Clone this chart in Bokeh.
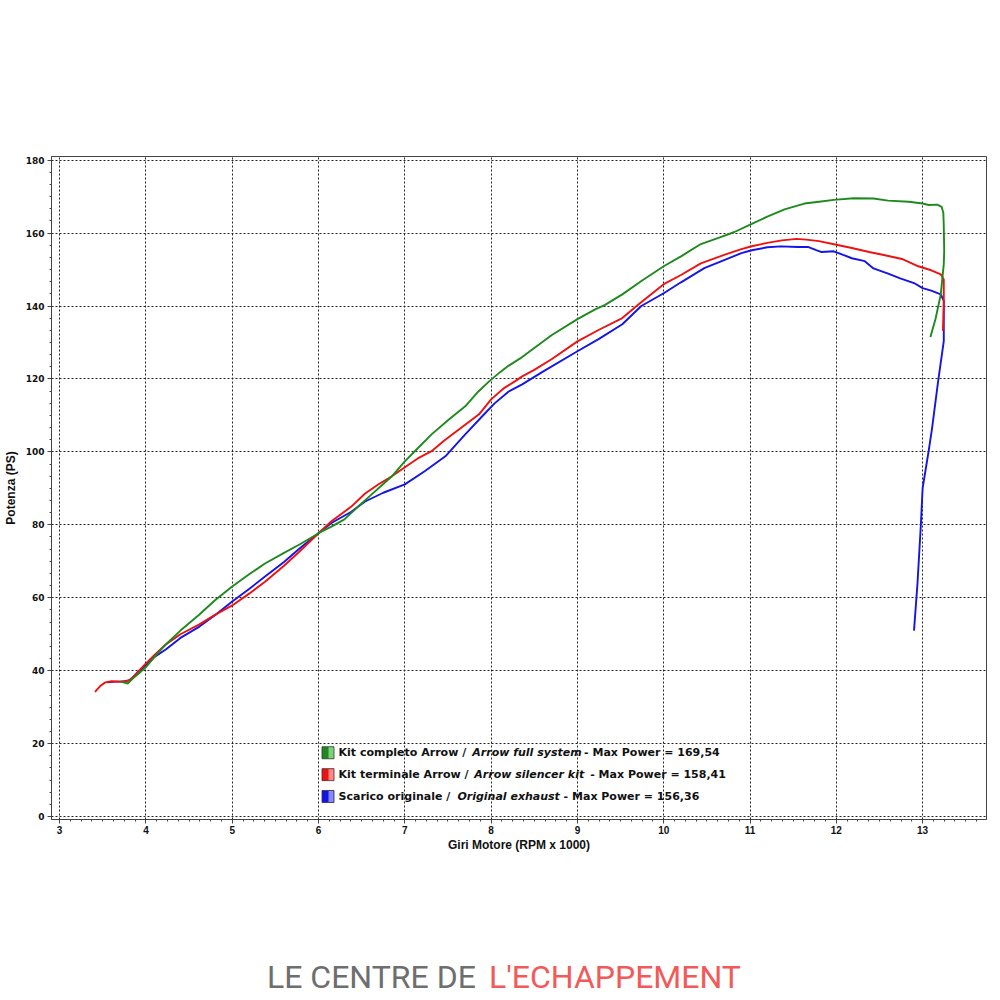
from bokeh.plotting import figure
from bokeh.layouts import column
from bokeh.models import Range1d, Label, SingleIntervalTicker
from bokeh.embed import file_html
from bokeh.resources import INLINE

# ---------------- data ----------------
green_rpm = [3.71, 3.79, 3.85, 3.92, 4.0, 4.1, 4.23, 4.4, 4.62, 4.8, 5.0, 5.2, 5.38, 5.6, 5.78, 6.0,
             6.15, 6.3, 6.45, 6.6, 6.75, 6.85, 7.0, 7.15, 7.31, 7.5, 7.7, 7.85, 7.98, 8.1, 8.2, 8.36,
             8.5, 8.7, 9.0, 9.2, 9.32, 9.52, 9.75, 10.0, 10.2, 10.43, 10.65, 10.82, 11.02, 11.2, 11.4,
             11.63, 11.8, 11.97, 12.2, 12.43, 12.6, 12.84, 13.0, 13.07, 13.17, 13.22, 13.24, 13.245,
             13.25, 13.245, 13.21, 13.15, 13.09]
green_ps = [37.0, 36.5, 37.9, 39.3, 41.0, 43.8, 47.2, 51.0, 55.4, 59.3, 63.1, 66.5, 69.4, 72.3, 74.6, 77.7,
            79.5, 81.5, 84.8, 88.0, 91.2, 93.3, 97.4, 101.0, 104.8, 108.7, 112.5, 116.5, 119.4, 121.8, 123.6, 126.0,
            128.5, 132.0, 136.4, 139.0, 140.3, 143.2, 147.0, 150.9, 153.6, 157.0, 158.8, 160.3, 162.5, 164.5, 166.5,
            168.1, 168.6, 169.1, 169.54, 169.5, 168.9, 168.6, 168.1, 167.7, 167.8, 167.2, 165.5, 162.0,
            155.0, 151.5, 143.2, 136.5, 131.5]

red_rpm = [3.41, 3.47, 3.53, 3.6, 3.7, 3.8, 3.85, 3.92, 4.0, 4.1, 4.23, 4.4, 4.62, 4.8, 5.0, 5.2, 5.38,
           5.6, 5.78, 6.0, 6.15, 6.38, 6.54, 6.7, 6.85, 7.0, 7.15, 7.31, 7.45, 7.63, 7.86, 8.0, 8.15,
           8.28, 8.36, 8.5, 8.7, 9.0, 9.25, 9.52, 9.71, 10.0, 10.2, 10.43, 10.7, 10.9, 11.02, 11.2,
           11.37, 11.54, 11.65, 11.8, 12.0, 12.18, 12.38, 12.55, 12.76, 12.95, 13.1, 13.21, 13.245,
           13.245, 13.235]
red_ps = [34.2, 35.8, 36.8, 37.1, 37.0, 37.3, 38.2, 40.0, 42.0, 44.3, 47.2, 50.0, 52.7, 55.3, 57.9, 61.2, 64.4,
          68.8, 72.7, 77.7, 81.0, 85.0, 88.6, 91.2, 93.3, 95.8, 98.2, 100.2, 103.0, 106.2, 110.3, 114.4, 117.5,
          119.4, 120.7, 122.5, 125.4, 130.3, 133.5, 136.7, 140.5, 146.0, 148.5, 151.7, 154.0, 155.6, 156.4, 157.3,
          158.0, 158.41, 158.2, 157.8, 156.8, 155.9, 154.8, 154.0, 152.9, 150.9, 149.8, 148.7, 147.3,
          140.0, 133.2]

blue_rpm = [3.55, 3.65, 3.75, 3.82, 3.9, 4.0, 4.1, 4.23, 4.4, 4.62, 4.8, 5.0, 5.2, 5.38, 5.6, 5.78, 6.0,
            6.15, 6.38, 6.54, 6.75, 7.0, 7.23, 7.47, 7.7, 7.93, 8.04, 8.2, 8.36, 8.6, 9.0, 9.25, 9.52,
            9.74, 10.0, 10.2, 10.47, 10.7, 10.9, 11.02, 11.2, 11.36, 11.55, 11.67, 11.76, 11.83, 11.97,
            12.08, 12.18, 12.33, 12.43, 12.6, 12.74, 12.9, 13.0, 13.1, 13.21, 13.245, 13.245, 13.18,
            13.11, 13.07, 13.0, 12.98, 12.94, 12.9]
blue_ps = [36.8, 37.0, 37.0, 37.5, 39.5, 41.5, 43.8, 45.8, 49.0, 52.1, 55.2, 59.0, 62.5, 65.8, 69.8, 73.5, 77.7,
           80.5, 83.6, 86.4, 88.8, 91.1, 94.7, 98.8, 104.8, 110.6, 113.3, 116.5, 118.5, 122.0, 127.6, 131.0, 135.0,
           140.0, 143.5, 146.5, 150.4, 152.6, 154.5, 155.3, 156.1, 156.36, 156.2, 156.2, 155.4, 154.8, 155.0,
           154.0, 153.1, 152.3, 150.3, 148.9, 147.6, 146.3, 144.9, 144.2, 143.2, 141.4, 130.4, 119.5,
           106.6, 100.3, 90.1, 80.3, 63.8, 51.0]

series_names = ["Kit completo Arrow / ", "Kit terminale Arrow / ", "Scarico originale / "]
series_names_en = ["Arrow full system", "Arrow silencer kit", "Original exhaust"]
max_power = ["169,54", "158,41", "156,36"]
x_title = "Giri Motore (RPM x 1000)"
y_title = "Potenza (PS)"
brand_grey = "LE CENTRE DE"
brand_red = "L'ECHAPPEMENT"

GREEN = "#1e8a1e"
RED = "#ee1111"
BLUE = "#1414e6"

# ---------------- main chart ----------------
p = figure(width=996, height=900, output_backend="svg", toolbar_location=None,
           x_range=Range1d(2.906, 13.74), y_range=Range1d(-0.8, 181.0),
           min_border_left=50, min_border_right=10, min_border_top=156, min_border_bottom=81,
           background_fill_color="white", border_fill_color="white")
p.outline_line_color = "#444444"
p.outline_line_width = 1

p.xaxis.ticker = SingleIntervalTicker(interval=1, num_minor_ticks=8)
p.yaxis.ticker = SingleIntervalTicker(interval=20, num_minor_ticks=6)

for ax in (p.xaxis[0], p.yaxis[0]):
    ax.axis_line_color = "#444444"
    ax.major_tick_line_color = "#444444"
    ax.minor_tick_line_color = "#444444"
    ax.major_tick_in = 0
    ax.minor_tick_in = 0
    ax.major_tick_out = 4
    ax.minor_tick_out = 2
    ax.major_label_text_color = "#111111"
    ax.major_label_text_font_style = "bold"
    ax.axis_label_text_color = "#111111"
    ax.axis_label_text_font_style = "bold"

p.xaxis.major_label_text_font = "Liberation Sans"
p.xaxis.major_label_text_font_size = "10px"
p.xaxis.major_label_standoff = 2
p.xaxis.axis_label = x_title
p.xaxis.axis_label_text_font = "Liberation Sans"
p.xaxis.axis_label_text_font_size = "12px"
p.xaxis.axis_label_standoff = 1

p.yaxis.major_label_text_font = "DejaVu Sans"
p.yaxis.major_label_text_font_size = "9px"
p.yaxis.major_label_standoff = 3
p.yaxis.axis_label = y_title
p.yaxis.axis_label_text_font = "Liberation Sans"
p.yaxis.axis_label_text_font_size = "12px"
p.yaxis.axis_label_standoff = 5

for g in (p.xgrid[0], p.ygrid[0]):
    g.grid_line_color = "#222222"
    g.grid_line_dash = "2 2"
    g.grid_line_width = 1

p.line(blue_rpm, blue_ps, line_color=BLUE, line_width=1.9)
p.line(red_rpm, red_ps, line_color=RED, line_width=1.9)
p.line(green_rpm, green_ps, line_color=GREEN, line_width=1.9)

# ---------------- legend (custom, mixed italic) ----------------
colors_dark = [GREEN, RED, BLUE]
colors_light = ["#7fcf7f", "#ff8a8a", "#8a8aff"]
row_y = [17.5, 11.5, 5.5]
italic_x = [7.782, 7.805, 7.609]
tail_x = [9.077, 9.148, 8.84]
sw_x = 6.11
for i in range(3):
    p.rect([sw_x], [row_y[i]], width=12, height=12, width_units="screen", height_units="screen",
           fill_color=colors_dark[i], line_color="#333333", line_width=0.8)
    p.rect([sw_x + 0.035], [row_y[i]], width=5, height=11, width_units="screen", height_units="screen",
           fill_color=colors_light[i], line_color=None)
    common = dict(y=row_y[i], text_baseline="middle", text_align="left",
                  text_font="DejaVu Sans", text_font_size="11px", text_color="#111111")
    p.add_layout(Label(x=6.232, text=series_names[i], text_font_style="bold", **common))
    p.add_layout(Label(x=italic_x[i], text=series_names_en[i], text_font_style="bold italic", **common))
    p.add_layout(Label(x=tail_x[i], text="- Max Power = " + max_power[i], text_font_style="bold", **common))

# ---------------- brand watermark below the chart ----------------
w = figure(width=996, height=96, output_backend="svg", toolbar_location=None,
           x_range=Range1d(0, 996), y_range=Range1d(0, 96),
           x_axis_location=None, y_axis_location=None,
           min_border=0, background_fill_color="white", border_fill_color="white")
w.grid.visible = False
w.outline_line_color = None
w.add_layout(Label(x=452, y=20, text=brand_grey, text_align="right", text_baseline="middle",
                   text_font="Roboto", text_font_size="32px", text_color="#6e6e6e"))
w.add_layout(Label(x=466, y=20, text=brand_red, text_align="left", text_baseline="middle",
                   text_font="Roboto", text_font_size="32px", text_color="#f25a5a"))

layout = column(p, w, spacing=0)
open("out.html", "w").write(file_html(layout, INLINE))
